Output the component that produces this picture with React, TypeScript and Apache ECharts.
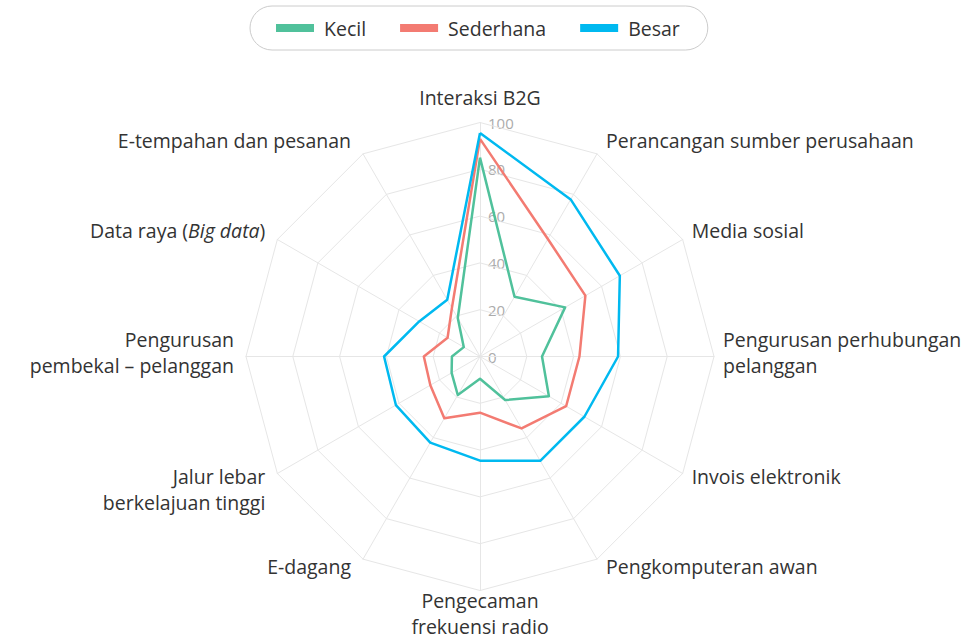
import React, { useEffect, useRef } from "react";
import * as echarts from "echarts";

// Indicators in clockwise order, starting at the top
const INDICATORS: string[] = [
  "Interaksi B2G",
  "Perancangan sumber perusahaan",
  "Media sosial",
  "Pengurusan perhubungan\npelanggan",
  "Invois elektronik",
  "Pengkomputeran awan",
  "Pengecaman\nfrekuensi radio",
  "E-dagang",
  "Jalur lebar\nberkelajuan tinggi",
  "Pengurusan\npembekal – pelanggan",
  "Data raya (Big data)",
  "E-tempahan dan pesanan",
];
const ITALIC_PART = "Big data";

const SERIES_NAMES: string[] = ["Kecil", "Sederhana", "Besar"];
const COLORS: string[] = ["#50C19B", "#F37B72", "#00B9F0"];

const KECIL: number[] = [85, 29.5, 42, 26.5, 34, 21.5, 9.5, 19, 14, 12, 8, 19];
const SEDERHANA: number[] = [93, 58, 52, 42.5, 42.5, 35.5, 24, 30.5, 24.5, 24, 16, 24];
const BESAR: number[] = [95.5, 77.5, 69, 59, 51.5, 51.5, 44.5, 42.5, 41.5, 41, 30, 28];

const TICKS: number[] = [0, 20, 40, 60, 80, 100];
const AXIS_MIN = 0;
const AXIS_MAX = 100;

// layout
const CX = 480;
const CY = 356.5;
const R = 234;
const FONT = "'Open Sans', Lato, sans-serif";
const LABEL_SIZE = 19.5;
const LH = 26;

export default function App() {
  const ref = useRef<HTMLDivElement>(null);

  useEffect(() => {
    if (!ref.current) return;
    const chart = echarts.init(ref.current, undefined, { renderer: "svg" });
    const N = INDICATORS.length;
    // ECharts radar goes counter-clockwise; reorder so that it reads clockwise
    const order = INDICATORS.map((_, i) => (N - i) % N);
    const reorder = (arr: number[]) => order.map((k) => arr[k]);
    const seriesValues = [KECIL, SEDERHANA, BESAR];

    const labels: any[] = INDICATORS.map((name, k) => {
      const th = (k * Math.PI * 2) / N;
      const s = Math.sin(th);
      const c = Math.cos(th);
      const vx = CX + R * s;
      const vy = CY - R * c;
      let x: number;
      let align: string;
      if (Math.abs(s) < 0.01) {
        x = vx;
        align = "center";
      } else if (s > 0) {
        x = vx + 9;
        align = "left";
      } else {
        x = vx - 12;
        align = "right";
      }
      let y: number;
      let va: string;
      if (Math.abs(s) < 0.01 && c > 0) {
        y = vy - 25;
        va = "middle";
      } else if (Math.abs(s) < 0.01 && c < 0) {
        y = vy + 10 - LH / 2;
        va = "top";
      } else if (Math.abs(c) < 0.01) {
        y = vy - 4;
        va = "middle";
      } else {
        y = vy - 3 - 12 * c - LH / 2;
        va = "top";
      }
      let text = name;
      const hasItalic = name.includes(ITALIC_PART);
      const rich: any = {
        n: { fontFamily: FONT, fontSize: LABEL_SIZE, fill: "#333", lineHeight: LH },
        i: { fontFamily: FONT, fontSize: LABEL_SIZE, fill: "#333", lineHeight: LH, fontStyle: "italic" },
      };
      if (hasItalic) {
        const [a, b] = name.split(ITALIC_PART);
        text = `{n|${a}}{i|${ITALIC_PART}}{n|${b}}`;
      }
      const style: any = {
        text,
        fill: "#333",
        fontFamily: FONT,
        fontSize: LABEL_SIZE,
        lineHeight: LH,
        align,
        verticalAlign: va,
      };
      if (hasItalic) style.rich = rich;
      return { type: "text", x, y, silent: true, style };
    });

    // value labels along the top axis
    const tickLabels: any[] = TICKS.map((t) => ({
      type: "text",
      x: CX + 8,
      y: CY - ((t - AXIS_MIN) / (AXIS_MAX - AXIS_MIN)) * R,
      silent: true,
      style: {
        text: String(t),
        fill: "#ababab",
        fontFamily: FONT,
        fontSize: 15,
        align: "left",
        verticalAlign: "middle",
      },
    }));

    const option: any = {
      animation: false,
      color: COLORS,
      legend: {
        top: 6,
        left: 250,
        data: SERIES_NAMES,
        icon: "rect",
        itemWidth: 38,
        itemHeight: 8,
        itemGap: 34,
        padding: [12, 28, 12, 26],
        borderColor: "#cccccc",
        borderWidth: 1,
        borderRadius: 23,
        textStyle: {
          fontFamily: FONT,
          fontSize: LABEL_SIZE,
          color: "#333",
          padding: [0, 0, 0, 5],
        },
      },
      radar: {
        center: [CX, CY],
        radius: R,
        startAngle: 90,
        splitNumber: TICKS.length - 1,
        shape: "polygon",
        indicator: order.map((k) => ({ name: INDICATORS[k], min: AXIS_MIN, max: AXIS_MAX })),
        axisName: { show: false },
        splitLine: { lineStyle: { color: "#e6e6e6", width: 1 } },
        splitArea: { show: false },
        axisLine: { lineStyle: { color: "#e6e6e6", width: 1 } },
        axisTick: { show: false },
        axisLabel: { show: false },
      },
      series: [
        {
          type: "radar",
          symbol: "none",
          data: SERIES_NAMES.map((nm, i) => ({
            name: nm,
            value: reorder(seriesValues[i]),
            itemStyle: { color: COLORS[i] },
            lineStyle: { color: COLORS[i], width: 2.5 },
          })),
        },
      ],
      graphic: [...tickLabels, ...labels],
    };
    chart.setOption(option);
    return () => chart.dispose();
  }, []);

  return (
    <div
      ref={ref}
      style={{ position: "fixed", left: 0, top: 0, width: 971, height: 640, background: "#fff" }}
    />
  );
}
